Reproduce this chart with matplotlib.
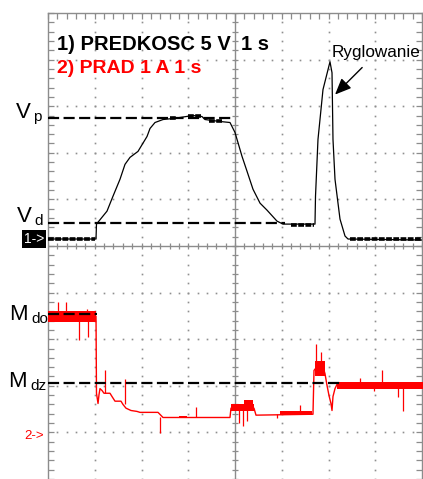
import matplotlib
matplotlib.use("Agg")
import matplotlib.pyplot as plt
from matplotlib.patches import Rectangle
import numpy as np

W, H, DPI = 423, 479, 100
plt.rcParams['font.family'] = ['Liberation Sans', 'DejaVu Sans']

# ---- scope settings (per division) ----
time_per_div = 1.0      # s / div
ch1_per_div = 5.0       # V / div  (PREDKOSC)
ch2_per_div = 1.0       # A / div  (PRAD)
ch1_ground_div = 0.15   # "1->" marker position
ch2_ground_div = -4.04  # "2->" marker position

# ---- channel 1: speed signal (V) ----
ch1_t = [0.00, 1.027, 1.037, 1.176, 1.262, 1.390, 1.540, 1.647, 1.754, 1.925, 2.118,
         2.182, 2.289, 2.460, 2.674, 3.102, 3.294, 3.358, 3.679, 3.893, 4.000, 4.150,
         4.257, 4.385, 4.535, 4.684, 4.898, 5.027, 5.711, 5.722, 5.775, 5.882, 6.032,
         6.075, 6.096, 6.139, 6.246, 6.353, 6.417, 8.02]
ch1_v = [0.00, 0.00, 1.60, 2.46, 2.99, 4.59, 6.41, 8.01, 8.76, 9.40, 11.00,
         11.86, 12.50, 12.82, 12.93, 13.25, 13.14, 12.82, 12.61, 12.50, 11.43, 8.87,
         7.27, 5.34, 3.85, 3.10, 1.92, 1.60, 1.60, 4.59, 10.68, 16.03, 19.02,
         17.84, 10.68, 6.41, 2.14, 0.32, 0.00, -0.11]
# quantisation "thick" stretches of channel 1: start t, end t, level V
ch1_thick_t0 = [0.00, 2.62, 3.00, 3.45, 5.20, 6.45]
ch1_thick_t1 = [1.00, 2.75, 3.30, 3.75, 5.68, 8.00]
ch1_thick_v = [0.05, 12.95, 13.25, 12.65, 1.55, -0.05]

# ---- channel 2: current (A) ----
ch2_t = [0.00, 1.027, 1.037, 1.070, 1.091, 1.112, 1.155, 1.198, 1.326, 1.369, 1.433,
         1.561, 1.604, 1.668, 1.775, 1.904, 1.968, 2.353, 2.460, 3.893, 3.914, 4.406,
         4.449, 5.668, 5.690, 5.754, 5.818, 5.882, 5.925, 5.968, 6.011, 6.053, 6.075,
         6.096, 6.139, 6.182, 8.02]
ch2_i = [2.53, 2.53, 0.88, 0.66, 0.85, 0.98, 0.94, 0.88, 0.88, 0.81, 0.71,
         0.71, 0.64, 0.56, 0.51, 0.49, 0.47, 0.47, 0.36, 0.36, 0.56, 0.56,
         0.41, 0.43, 1.37, 1.45, 1.54, 1.45, 1.30, 1.05, 0.83, 0.66, 0.51,
         0.81, 0.98, 1.07, 1.07]
# noisy bands of channel 2: start t, end t, low A, high A
ch2_band_t0 = [0.00, 3.914, 4.19, 4.96, 5.71, 6.182, 2.80]
ch2_band_t1 = [1.027, 4.406, 4.38, 5.65, 5.93, 8.02, 2.98]
ch2_band_lo = [2.41, 0.49, 0.56, 0.41, 1.26, 0.98, 0.34]
ch2_band_hi = [2.65, 0.64, 0.73, 0.49, 1.58, 1.13, 0.40]
# spikes of channel 2: time, from A, to A
spike_t = [0.214, 0.385, 0.834, 0.663, 0.856, 1.219, 1.647, 2.396, 3.166, 4.086, 4.171,
           4.257, 4.90, 5.39, 5.733, 5.84, 6.67, 6.97, 7.144, 7.49, 7.59]
spike_from = [2.60, 2.60, 2.60, 2.45, 2.45, 0.88, 0.64, 0.36, 0.36, 0.52, 0.52,
              0.52, 0.43, 0.43, 1.45, 1.50, 1.10, 1.02, 1.10, 1.02, 1.02]
spike_to = [2.84, 2.84, 2.69, 2.03, 2.09, 1.37, 1.18, 0.02, 0.58, 0.24, 0.17,
            0.28, 0.34, 0.62, 1.94, 1.77, 1.20, 0.92, 1.37, 0.81, 0.49]

# ---- reference levels (dashed) ----
Vp_level, Vp_end = 13.03, 3.94     # V, s
Vd_level, Vd_end = 1.71, 5.07
Mdo_level, Mdo_end = 2.585, 1.05   # A, s
Mdz_level, Mdz_end = 1.11, 6.31

# ---- annotation arrow (channel 1 units) ----
arrow_tip_t, arrow_tip_v = 6.14, 15.5
arrow_tail_t, arrow_tail_v = 6.72, 18.4

# ---- helpers ----
def y1(v):
    return np.asarray(v, float) / ch1_per_div + ch1_ground_div

def y2(i):
    return np.asarray(i, float) / ch2_per_div + ch2_ground_div

def xt(t):
    return np.asarray(t, float) / time_per_div

fig = plt.figure(figsize=(W / DPI, H / DPI), dpi=DPI)
fig.patch.set_facecolor('white')
top_px, left_px, right_px = 13, 48, 422
ax = fig.add_axes([left_px / W, 0, (right_px - left_px) / W, (H - top_px) / H])
px_per_div = 46.8
ax.set_xlim(0, 8)
ax.set_ylim(5 - (H - top_px) / px_per_div, 5)

grey = '#8c8c8c'
dot = '#8f8f8f'
# dotted grid
sub = np.arange(0, 8.001, 0.2)
subv = np.arange(-5, 5.001, 0.2)
for gx in [1, 2, 3, 5, 6, 7]:
    ax.plot(np.full_like(subv, gx), subv, ls='none', marker='s', ms=1.2, mew=0, color=dot, zorder=1)
for gy in [-4, -3, -2, -1, 1, 2, 3, 4]:
    ax.plot(sub, np.full_like(sub, gy), ls='none', marker='s', ms=1.2, mew=0, color=dot, zorder=1)
# centre axes with ticks
ax.axhline(0, color=grey, lw=1.0, zorder=1)
ax.axvline(4, color=grey, lw=1.0, zorder=1)
ax.plot(sub, np.zeros_like(sub), ls='none', marker='|', ms=5, mew=0.9, color=grey, zorder=1)
ax.plot(np.full_like(subv, 4), subv, ls='none', marker='_', ms=5, mew=0.9, color=grey, zorder=1)
# border
for s in ['top', 'left', 'right']:
    ax.spines[s].set_color(grey)
    ax.spines[s].set_linewidth(1.0)
ax.spines['bottom'].set_visible(False)
ax.set_xticks(np.arange(0, 8.001, 0.2))
ax.set_yticks(np.arange(-5, 5.001, 0.2))
ax.tick_params(axis='x', which='both', top=True, bottom=False, direction='in', length=4,
               width=0.9, color=grey, labeltop=False, labelbottom=False)
ax.tick_params(axis='y', which='both', left=True, right=True, direction='in', length=4,
               width=0.9, color=grey, labelleft=False, labelright=False)
ax.set_facecolor('white')

# channel 2 (red)
red = '#ff0000'
for t0, t1, lo, hi in zip(ch2_band_t0, ch2_band_t1, ch2_band_lo, ch2_band_hi):
    ax.fill_between([xt(t0), xt(t1)], [y2(lo)] * 2, [y2(hi)] * 2, color=red, lw=0, zorder=3)
ax.vlines(xt(spike_t), y2(spike_from), y2(spike_to), color=red, lw=0.9, zorder=3)
ax.plot(xt(ch2_t), y2(ch2_i), color=red, lw=1.0, zorder=3)

# channel 1 (black)
ax.plot(xt(ch1_t), y1(ch1_v), color='black', lw=0.9, zorder=4)
for t0, t1, v in zip(ch1_thick_t0, ch1_thick_t1, ch1_thick_v):
    ax.plot([xt(t0), xt(t1)], [y1(v)] * 2, color='black', lw=2.6, dashes=(1.6, 0.4),
            solid_capstyle='butt', zorder=4)

# dashed reference levels
dash_kw = dict(color='black', lw=1.6, dashes=(5, 2), zorder=5)
ax.plot([0, xt(Vp_end)], [y1(Vp_level)] * 2, **dash_kw)
ax.plot([0, xt(Vd_end)], [y1(Vd_level)] * 2, **dash_kw)
ax.plot([0, xt(Mdo_end)], [y2(Mdo_level)] * 2, **dash_kw)
ax.plot([0, xt(Mdz_end)], [y2(Mdz_level)] * 2, **dash_kw)

# annotation arrow
ax.annotate('', xy=(xt(arrow_tip_t), y1(arrow_tip_v)),
            xytext=(xt(arrow_tail_t), y1(arrow_tail_v)),
            arrowprops=dict(arrowstyle='-|>,head_length=0.7,head_width=0.3', color='black',
                            lw=1.0, mutation_scale=14, shrinkA=0, shrinkB=0), zorder=6)

def fxy(px, py):
    return px / W, 1 - py / H

# titles
fig.text(*fxy(57, 50), '1) PREDKOSC 5 V', fontsize=14.5, fontweight='bold', color='black', va='baseline')
fig.text(*fxy(241, 50), '1 s', fontsize=14.5, fontweight='bold', color='black', va='baseline')
fig.text(*fxy(57, 73), '2) PRAD 1 A 1 s', fontsize=14, fontweight='bold', color=red, va='baseline')
fig.text(*fxy(332, 57), 'Ryglowanie', fontsize=12.3, color='black', va='baseline')

# level labels
big, small = 16, 11
fig.text(*fxy(16, 118), 'V', fontsize=big, va='baseline')
fig.text(*fxy(33, 121), 'p', fontsize=small, va='baseline')
fig.text(*fxy(17, 222), 'V', fontsize=big, va='baseline')
fig.text(*fxy(34, 225), 'd', fontsize=small, va='baseline')
fig.text(*fxy(9, 320), 'M', fontsize=big, va='baseline')
fig.text(*fxy(31, 323), 'do', fontsize=small, va='baseline')
fig.text(*fxy(8, 387), 'M', fontsize=big, va='baseline')
fig.text(*fxy(30, 390), 'dz', fontsize=small, va='baseline')

# channel markers
fig.patches.append(Rectangle(fxy(22, 248), 24 / W, 18 / H, transform=fig.transFigure,
                             facecolor='black', edgecolor='none'))
fig.text(*fxy(34, 239), '1->', fontsize=10, color='white', ha='center', va='center')
fig.text(*fxy(34, 436), '2->', fontsize=9.5, color=red, ha='center', va='center')

fig.savefig('out.png', dpi=DPI, facecolor='white')
